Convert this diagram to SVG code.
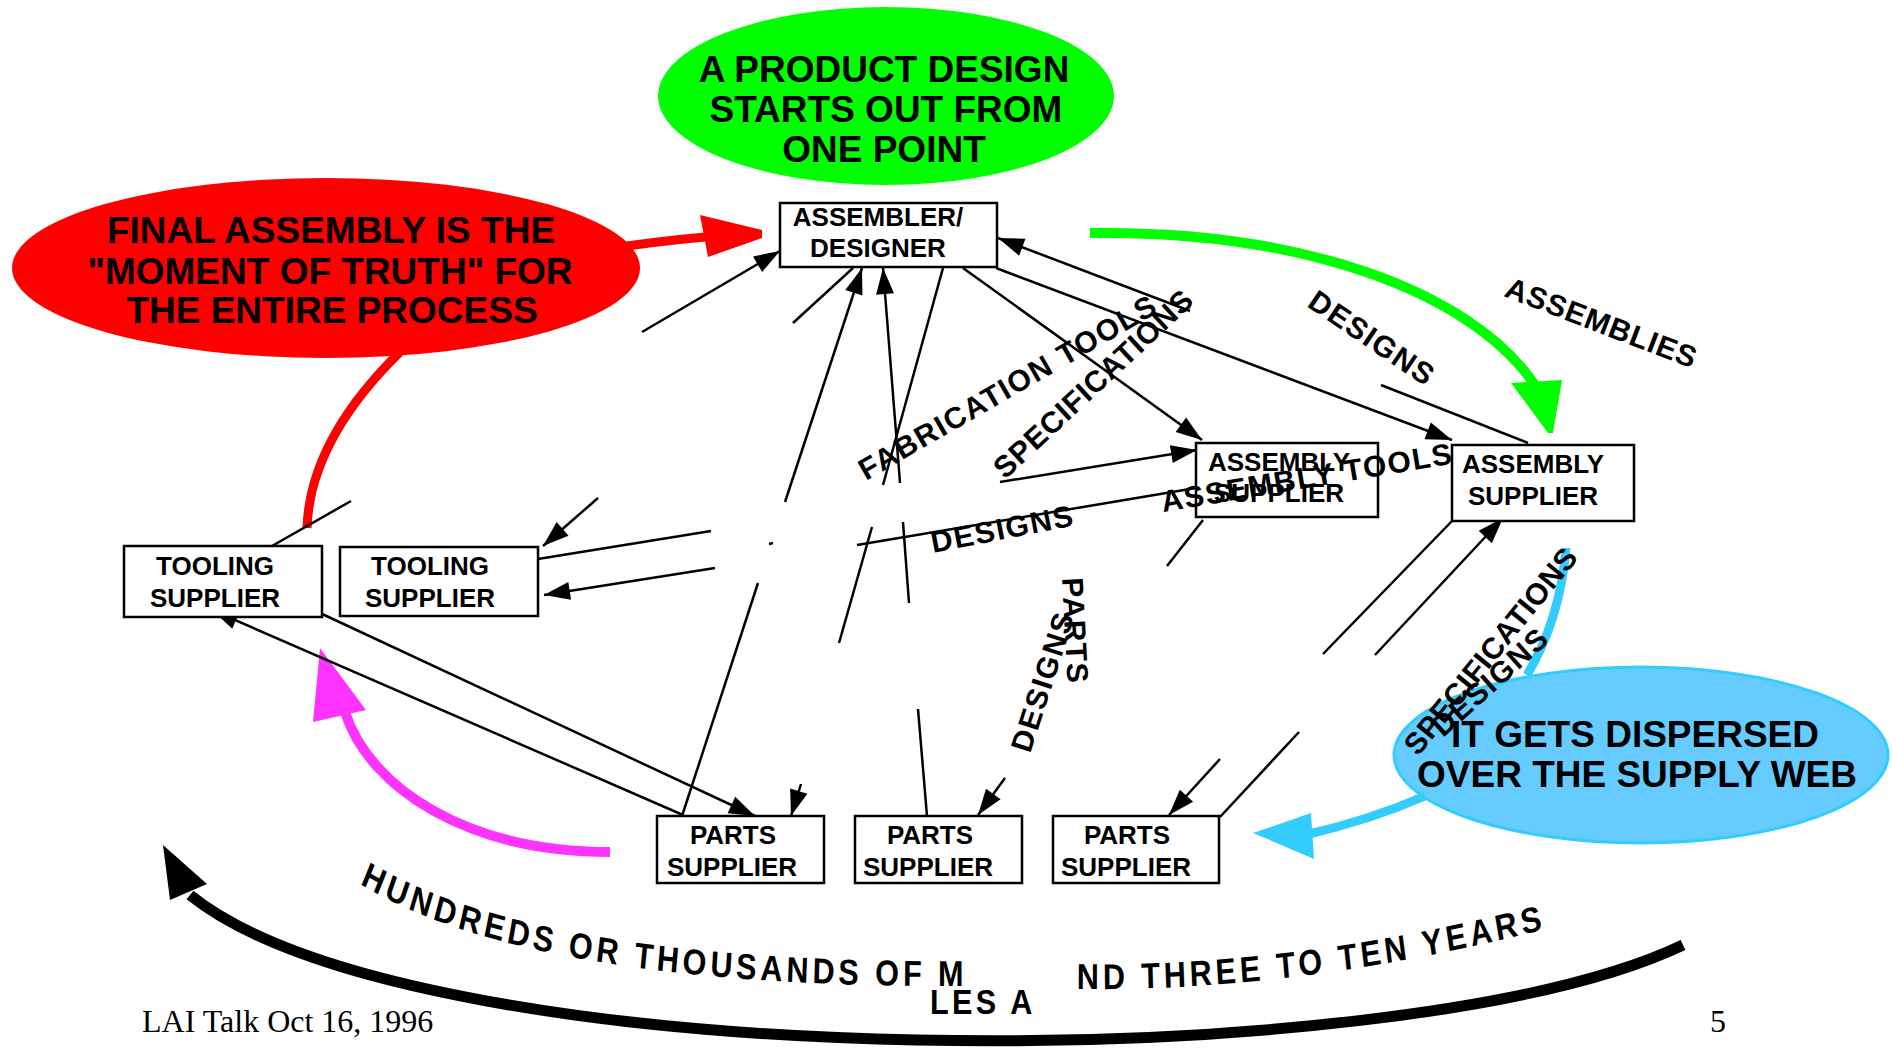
<svg xmlns="http://www.w3.org/2000/svg" width="1892" height="1052" viewBox="0 0 1892 1052">
<style>
.box{fill:#fff;stroke:#000;stroke-width:2.5}
.bt{font-family:"Liberation Sans",Arial,sans-serif;font-weight:bold;font-size:26px;text-anchor:middle;fill:#000}
.big{font-family:"Liberation Sans",Arial,sans-serif;font-weight:bold;font-size:37px;text-anchor:middle;fill:#000}
.ln{stroke:#000;stroke-width:2.5;fill:none}
.lbl{font-family:"Liberation Sans",Arial,sans-serif;font-weight:bold;font-size:30px;letter-spacing:1.5px;fill:#000}
.arc{font-family:"Liberation Sans",Arial,sans-serif;font-weight:bold;font-size:36px;letter-spacing:4.7px;fill:#000}
.foot{font-family:"Liberation Serif","Times New Roman",serif;font-size:32px;fill:#000}
</style>
<defs>
<marker id="ah" markerUnits="userSpaceOnUse" markerWidth="26" markerHeight="18" refX="26" refY="9" orient="auto" overflow="visible"><path d="M0,0 L26,9 L0,18 z" fill="#000"/></marker>
<path id="arcA" d="M423.5 884 Q626 989 1147 986"/>
<path id="arcB" d="M1267 989 Q1529 992 1823.5 928"/>
</defs>
<rect width="1892" height="1052" fill="#fff"/>

<g id="callout-green">
<ellipse cx="886" cy="96" rx="228" ry="89" fill="#00ff00"/>
<text class="big" x="884" y="82">A PRODUCT DESIGN</text>
<text class="big" x="886" y="122">STARTS OUT FROM</text>
<text class="big" x="884" y="162">ONE POINT</text>
</g>
<g id="callout-red">
<ellipse cx="326" cy="268" rx="314" ry="90" fill="#ff0000"/>
<text class="big" x="331" y="243">FINAL ASSEMBLY IS THE</text>
<text class="big" x="330" y="284">"MOMENT OF TRUTH" FOR</text>
<text class="big" x="332" y="323">THE ENTIRE PROCESS</text>
</g>
<g id="callout-blue">
<ellipse cx="1641" cy="755" rx="247" ry="88" fill="#66ccff" stroke="#33ccff" stroke-width="3"/>
<text class="big" x="1635" y="747">IT GETS DISPERSED</text>
<text class="big" x="1637" y="787">OVER THE SUPPLY WEB</text>
</g>

<g id="colored-arrows">
<path d="M600 250 Q650 242 705 237" stroke="#ff0000" stroke-width="9" fill="none"/>
<polygon points="700,215 762,230 762,238 708,257" fill="#ff0000"/>
<path d="M400 352 Q310 440 307 528" stroke="#ff0000" stroke-width="9" fill="none"/>
<path d="M1090 233 C1300 230 1470 290 1535 385" stroke="#00ff00" stroke-width="10" fill="none"/>
<polygon points="1511,383 1562,380 1553,433 1548,433" fill="#00ff00"/>
<path d="M1527 675 Q1560 620 1566 548" stroke="#33ccff" stroke-width="9" fill="none"/>
<path d="M1425 796 Q1370 820 1305 835" stroke="#33ccff" stroke-width="9" fill="none"/>
<polygon points="1253,833 1311,813 1314,859" fill="#33ccff"/>
<path d="M610 852 C470 852 370 790 345 712" stroke="#ff33ff" stroke-width="10" fill="none"/>
<polygon points="320,648 366,710 313,722" fill="#ff33ff"/>
<path d="M1683 945 C1400 1080 420 1080 190 895" stroke="#000" stroke-width="11" fill="none"/>
<polygon points="163,845 207,884 170,900" fill="#000"/>
</g>

<g id="connectors">
<path class="ln" d="M272 546 L351 501"/>
<path class="ln" d="M642 332 L780 251" marker-end="url(#ah)"/>
<path class="ln" d="M853 268 L793 323"/>
<path class="ln" d="M598 498 L543 546" marker-end="url(#ah)"/>
<path class="ln" d="M682 816 L758 583"/>
<path class="ln" d="M785 502 L862 268" marker-end="url(#ah)"/>
<path class="ln" d="M927 816 L918 709"/>
<path class="ln" d="M909 603 L903 522"/>
<path class="ln" d="M900 483 L883 268" marker-end="url(#ah)"/>
<path class="ln" d="M943 268 L883 485"/>
<path class="ln" d="M872 527 L839 643"/>
<path class="ln" d="M801 784 L791 816" marker-end="url(#ah)"/>
<path class="ln" d="M963 268 L1202 440" marker-end="url(#ah)"/>
<path class="ln" d="M996 268 L1452 440" marker-end="url(#ah)"/>
<path class="ln" d="M1528 443 L1381 385"/>
<path class="ln" d="M1190 311 L998 238" marker-end="url(#ah)"/>
<path class="ln" d="M538 559 L711 531"/>
<path class="ln" d="M1000 482 L1197 450" marker-end="url(#ah)"/>
<path class="ln" d="M1196 488 L857 545"/>
<path class="ln" d="M715 568 L544 595" marker-end="url(#ah)"/>
<path class="ln" d="M683 815 L212 610" marker-end="url(#ah)"/>
<path class="ln" d="M320 613 L755 816" marker-end="url(#ah)"/>
<path class="ln" d="M1203 520 L1167 566"/>
<path class="ln" d="M1005 778 L978 815" marker-end="url(#ah)"/>
<path class="ln" d="M1452 521 L1323 654"/>
<path class="ln" d="M1220 759 L1169 815" marker-end="url(#ah)"/>
<path class="ln" d="M1220 817 L1299 732"/>
<path class="ln" d="M1375 655 L1503 518" marker-end="url(#ah)"/>
<path class="ln" d="M769 544 L773 543"/>
</g>

<g id="assembler-designer"><rect class="box" x="780" y="203" width="217" height="64"/><text class="bt" x="878" y="226">ASSEMBLER/</text><text class="bt" x="878" y="257">DESIGNER</text></g>
<g id="assembly-supplier-1"><rect class="box" x="1196" y="443" width="182" height="74"/><text class="bt" x="1279" y="471">ASSEMBLY</text><text class="bt" x="1279" y="502">SUPPLIER</text></g>
<g id="assembly-supplier-2"><rect class="box" x="1452" y="445" width="182" height="76"/><text class="bt" x="1533" y="473">ASSEMBLY</text><text class="bt" x="1533" y="505">SUPPLIER</text></g>
<g id="tooling-supplier-1"><rect class="box" x="124" y="546" width="198" height="71"/><text class="bt" x="215" y="575">TOOLING</text><text class="bt" x="215" y="607">SUPPLIER</text></g>
<g id="tooling-supplier-2"><rect class="box" x="340" y="547" width="198" height="69"/><text class="bt" x="430" y="575">TOOLING</text><text class="bt" x="430" y="607">SUPPLIER</text></g>
<g id="parts-supplier-1"><rect class="box" x="657" y="816" width="167" height="67"/><text class="bt" x="733" y="844">PARTS</text><text class="bt" x="732" y="876">SUPPLIER</text></g>
<g id="parts-supplier-2"><rect class="box" x="855" y="816" width="167" height="67"/><text class="bt" x="930" y="844">PARTS</text><text class="bt" x="928" y="876">SUPPLIER</text></g>
<g id="parts-supplier-3"><rect class="box" x="1053" y="816" width="166" height="67"/><text class="bt" x="1127" y="844">PARTS</text><text class="bt" x="1126" y="876">SUPPLIER</text></g>

<g id="labels">
<text class="lbl" transform="translate(866 481) rotate(-30)">FABRICATION TOOLS</text>
<text class="lbl" style="letter-spacing:0.8px" transform="translate(1005 480) rotate(-43)">SPECIFICATIONS</text>
<text class="lbl" transform="translate(933 553) rotate(-11)">DESIGNS</text>
<text class="lbl" transform="translate(1163 512) rotate(-9.5)">ASSEMBLY TOOLS</text>
<text class="lbl" transform="translate(1306 306) rotate(34)">DESIGNS</text>
<text class="lbl" style="letter-spacing:0.8px" transform="translate(1503 296) rotate(21)">ASSEMBLIES</text>
<text class="lbl" transform="translate(1062 578) rotate(87)">PARTS</text>
<text class="lbl" transform="translate(1030 754) rotate(-72)">DESIGNS</text>
<text class="lbl" style="letter-spacing:0.5px" transform="translate(1418 757) rotate(-51)">SPECIFICATIONS</text>
<text class="lbl" transform="translate(1443 738) rotate(-42)">DESIGNS</text>
<g transform="scale(0.85 1)">
<text class="arc"><textPath href="#arcA">HUNDREDS</textPath></text>
<text class="arc"><textPath href="#arcA" startOffset="256">OR THOUSANDS OF M</textPath></text>
<text class="arc" style="letter-spacing:4px" x="1094" y="1014">LES A</text>
<text class="arc"><textPath href="#arcB">ND THREE TO TEN YEARS</textPath></text>
</g>
</g>

<g id="footer">
<text class="foot" x="142" y="1032">LAI Talk Oct 16, 1996</text>
<text class="foot" x="1710" y="1032">5</text>
</g>
</svg>
